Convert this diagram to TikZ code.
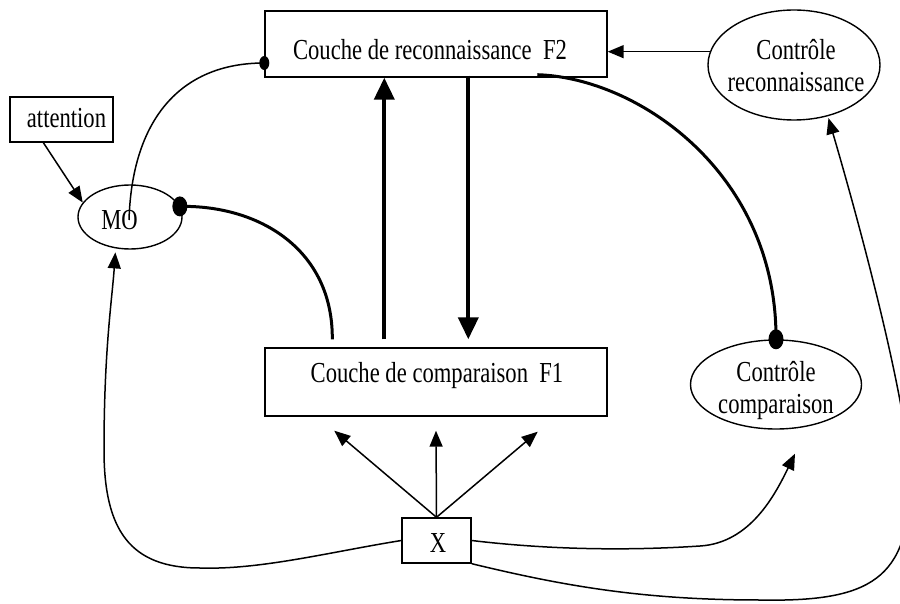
\documentclass[tikz,border=0pt]{standalone}
\usepackage{fontspec}
\setmainfont{Liberation Serif}[FakeStretch=0.78]
\usetikzlibrary{arrows.meta,shapes.geometric,calc}

\begin{document}
\begin{tikzpicture}[x=1pt,y=-1pt,
  font=\fontsize{29}{32}\selectfont,
  frame/.style={draw, line width=1.4pt, rectangle, inner sep=0pt},
  oval/.style={draw, line width=1.4pt, ellipse, inner sep=0pt},
  txt/.style={inner sep=0pt, anchor=base},
  wire/.style={line width=1.5pt},
  wirearrow/.style={line width=1.5pt, -{Triangle[length=16pt,width=13pt]}},
  heavywire/.style={line width=3pt},
  boldarrow/.style={line width=4pt, -{Triangle[length=22pt,width=20pt]}}]

\useasboundingbox (0,0) rectangle (900,604);
\clip (0,0) rectangle (900,604);

% layers
\node[frame, minimum width=342pt, minimum height=66pt] (f2) at (436,44) {};
\node[txt] (f2t) at (430,60) {Couche de reconnaissance~~F2};
\node[frame, minimum width=342pt, minimum height=68pt] (f1) at (436,382) {};
\node[txt] (f1t) at (437,382) {Couche de comparaison~~F1};

% inputs
\node[frame, minimum width=103pt, minimum height=45pt] (att) at (61.5,119.5) {};
\node[txt] (attt) at (66.5,128) {attention};
\node[frame, minimum width=69pt, minimum height=45pt] (xb) at (436.5,540.5) {};
\node[txt] (xt) at (438,552) {X};

% control units (base anchor of a two-line node sits on its last line)
\node[oval, minimum width=104pt, minimum height=64pt] (mo) at (130,217) {};
\node[txt] (mot) at (119.5,230) {MO};
\node[oval, minimum width=172pt, minimum height=110pt] (cr) at (794,65) {};
\node[txt, align=center] (crt) at (796,92) {Contrôle\\reconnaissance};
\node[oval, minimum width=171pt, minimum height=89pt] (cc) at (776,384.5) {};
\node[txt, align=center] (cct) at (776,413) {Contrôle\\comparaison};

% recognition control -> F2
\draw[wirearrow] (cr.171) -- (cr.171 -| f2.east);

% attention -> MO
\draw[wirearrow] (att.-128) -- (mo.163);

% MO <-> F2 (inhibitory link)
\draw[wire] ([xshift=-1pt,yshift=-3pt]mo.center) .. controls (132,120) and (180,63) .. ([yshift=-19pt]f2.west);
\fill ([yshift=-19pt]f2.west) ellipse [x radius=5pt, y radius=7pt];

% F1 -> MO
\draw[heavywire] (mo.12) .. controls (260,205) and (333,250) .. ([xshift=68pt,yshift=8pt]f1.north west);
\fill (mo.12) ellipse [x radius=7.5pt, y radius=10pt];

% bottom-up and top-down paths
\draw[boldarrow] ([xshift=120pt,yshift=8pt]f1.north west) -- ([xshift=120pt]f2.south west);
\draw[boldarrow] ([xshift=204pt,yshift=2pt]f2.south west) -- ([xshift=204pt,yshift=8pt]f1.north west);

% F2 -> comparison control
\draw[heavywire] ([xshift=273pt,yshift=3pt]f2.south west) .. controls (640,78) and (777,175) .. (cc.north);
\fill (cc.north) ellipse [x radius=7.5pt, y radius=10pt];

% input X -> F1
\draw[wirearrow] (xb.north) -- ([xshift=70pt,yshift=-14pt]f1.south west);
\draw[wirearrow] (xb.north) -- ([yshift=-14pt]f1.south);
\draw[wirearrow] (xb.north) -- ([xshift=-70pt,yshift=-15pt]f1.south east);

% input X -> MO
\draw[wirearrow] (xb.west) .. controls (330,552) and (260,570) .. (200,568)
  .. controls (130,568) and (104,530) .. (104,450)
  .. controls (104,350) and (112,300) .. ([yshift=-4pt]mo.245);

% input X -> comparison control
\draw[wirearrow] (xb.east) .. controls (560,551) and (640,550) .. (700,546)
  .. controls (750,543) and (775,495) .. ([xshift=19pt,yshift=-24pt]cc.south);

% input X -> recognition control
\draw[wirearrow] (xb.south east) .. controls (560,585) and (640,600) .. (760,600)
  .. controls (870,602) and (910,580) .. (910,480)
  .. controls (910,420) and (870,260) .. ([yshift=-2pt]cr.-56);
\end{tikzpicture}
\end{document}
